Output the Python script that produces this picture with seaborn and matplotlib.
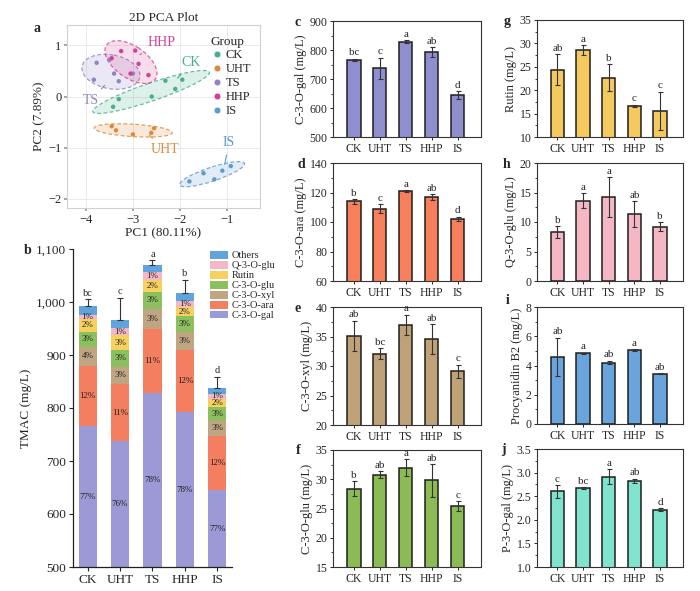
import numpy as np
import pandas as pd
import matplotlib
matplotlib.use("Agg")
import matplotlib.pyplot as plt
import seaborn as sns
from matplotlib.patches import Ellipse, Patch
from matplotlib.lines import Line2D
from matplotlib.ticker import AutoMinorLocator, MultipleLocator, FuncFormatter

sns.set_theme(style="ticks")
plt.rcParams['font.family'] = ['Liberation Serif', 'DejaVu Serif']
plt.rcParams['axes.unicode_minus'] = True

# ---------------- data ----------------
groups = ["CK", "UHT", "TS", "HHP", "IS"]

# PCA scores (PC1, PC2) per group
pca_CK_x = [-3.42, -3.30, -2.31, -1.95, -2.60, -2.10]
pca_CK_y = [-0.20, -0.05, 0.31, 0.33, 0.00, 0.15]
pca_UHT_x = [-3.36, -3.00, -2.61, -2.55, -3.45]
pca_UHT_y = [-0.66, -0.74, -0.71, -0.62, -0.58]
pca_TS_x = [-3.77, -3.83, -3.30, -3.00, -3.50, -3.40]
pca_TS_y = [0.66, 0.33, 0.30, 0.45, 0.72, 0.45]
pca_HHP_x = [-3.25, -2.88, -2.67, -3.45, -3.05, -2.95]
pca_HHP_y = [0.89, 0.64, 0.42, 0.75, 0.45, 0.90]
pca_IS_x = [-1.80, -1.27, -0.92, -1.10, -1.50]
pca_IS_y = [-1.66, -1.62, -1.36, -1.45, -1.50]

# individual compounds (mg/L)
c3gal = [766, 737, 829, 792, 645]
c3gal_err = [4, 36, 4, 17, 13]
c3gal_sig = ["bc", "c", "a", "ab", "d"]

c3ara = [114, 109, 121, 117, 102]
c3ara_err = [1.5, 3.0, 0.6, 2.0, 1.6]
c3ara_sig = ["b", "c", "a", "ab", "d"]

c3xyl = [35.1, 32.1, 37.0, 34.6, 29.1]
c3xyl_err = [2.6, 0.9, 1.7, 2.5, 1.1]
c3xyl_sig = ["ab", "bc", "a", "ab", "c"]

c3glu = [28.4, 30.8, 32.0, 29.8, 25.4]
c3glu_err = [1.3, 0.6, 1.4, 2.8, 0.8]
c3glu_sig = ["b", "ab", "a", "ab", "c"]

rutin = [24.4, 28.6, 22.7, 16.7, 15.6]
rutin_err = [3.3, 1.0, 2.9, 0.2, 4.1]
rutin_sig = ["ab", "a", "b", "c", "c"]

q3glu = [8.3, 13.6, 14.2, 11.3, 9.2]
q3glu_err = [1.0, 1.3, 3.4, 2.2, 0.8]
q3glu_sig = ["b", "a", "a", "ab", "b"]

procb2 = [4.6, 4.85, 4.2, 5.05, 3.45]
procb2_err = [1.3, 0.03, 0.12, 0.05, 0.03]
procb2_sig = ["ab", "a", "ab", "a", "ab"]

p3gal = [2.60, 2.67, 2.91, 2.82, 2.21]
p3gal_err = [0.13, 0.02, 0.16, 0.05, 0.03]
p3gal_sig = ["c", "bc", "a", "ab", "d"]

others = [16, 15, 14, 16, 12]
tmac_err = [13, 42, 9, 24, 21]
tmac_sig = ["bc", "c", "a", "b", "d"]

pct_gal = ["77%", "76%", "78%", "78%", "77%"]
pct_ara = ["12%", "11%", "11%", "12%", "12%"]
pct_xyl = ["4%", "3%", "3%", "3%", "3%"]
pct_glu = ["3%", "3%", "3%", "3%", "3%"]
pct_rutin = ["2%", "3%", "2%", "2%", "2%"]
pct_q = ["1%", "1%", "1%", "1%", "1%"]

# ---------------- figure ----------------
W, H = 700, 591
fig = plt.figure(figsize=(W / 100, H / 100), dpi=100)


def rect(l, t, r, b):
    return [l / W, 1 - b / H, (r - l) / W, (b - t) / H]


# ---------------- panel a: PCA ----------------
grp_colors = {"CK": "#45b08a", "UHT": "#e0883a", "TS": "#8e84c4",
              "HHP": "#d83f93", "IS": "#5a9bd0"}
pca_x = {"CK": pca_CK_x, "UHT": pca_UHT_x, "TS": pca_TS_x, "HHP": pca_HHP_x, "IS": pca_IS_x}
pca_y = {"CK": pca_CK_y, "UHT": pca_UHT_y, "TS": pca_TS_y, "HHP": pca_HHP_y, "IS": pca_IS_y}
rows = []
for g in groups:
    for x, y in zip(pca_x[g], pca_y[g]):
        rows.append({"Group": g, "PC1": x, "PC2": y})
pca_df = pd.DataFrame(rows)

axa = fig.add_axes(rect(67, 25, 260, 208))
axa.set_facecolor("white")
axa.grid(True, color="#e6e6e6", lw=0.6)
axa.set_axisbelow(True)
for g in groups:
    x = np.array(pca_x[g]); y = np.array(pca_y[g])
    cov = np.cov(x, y)
    vals, vecs = np.linalg.eigh(cov)
    order = vals.argsort()[::-1]
    vals = vals[order]; vecs = vecs[:, order]
    ang = np.degrees(np.arctan2(vecs[1, 0], vecs[0, 0]))
    k = 2.0
    ew, eh = 2 * k * np.sqrt(vals[0]), 2 * k * np.sqrt(max(vals[1], 1e-4))
    axa.add_patch(Ellipse((x.mean(), y.mean()), ew, eh, angle=ang, facecolor=grp_colors[g],
                          alpha=0.18, edgecolor="none"))
    axa.add_patch(Ellipse((x.mean(), y.mean()), ew, eh, angle=ang, facecolor="none",
                          edgecolor=grp_colors[g], lw=0.9, ls=(0, (3, 2)), alpha=0.8))
sns.scatterplot(data=pca_df, x="PC1", y="PC2", hue="Group", palette=grp_colors, s=10,
                edgecolor="none", ax=axa, legend=False, zorder=3)
annots = [("HHP", (-2.85, 0.82), (-2.40, 1.05)),
          ("CK", (-2.05, 0.36), (-1.76, 0.67)),
          ("TS", (-3.60, 0.22), (-3.90, -0.08)),
          ("UHT", (-2.65, -0.76), (-2.31, -1.04)),
          ("IS", (-1.05, -1.33), (-0.96, -0.90))]
for lab, xy, xt in annots:
    axa.annotate(lab, xy=xy, xytext=xt, color=grp_colors[lab], fontsize=10, ha="center", va="center",
                 arrowprops=dict(arrowstyle="-", color=grp_colors[lab], lw=0.8, shrinkA=2, shrinkB=0))
axa.set_xlim(-4.4, -0.3)
axa.set_ylim(-2.18, 1.4)
axa.set_xticks([-4, -3, -2, -1])
axa.set_yticks([-2, -1, 0, 1])
axa.tick_params(labelsize=9, length=2, color="#999999", pad=2)
for s in axa.spines.values():
    s.set_color("#d0d0d0"); s.set_linewidth(0.8)
axa.set_xlabel("PC1 (80.11%)", fontsize=9.5, labelpad=1)
axa.set_ylabel("PC2 (7.89%)", fontsize=9.5, labelpad=2)
axa.set_title("2D PCA Plot", fontsize=9.5, pad=3)
handles = [Line2D([], [], marker="o", ls="none", markersize=5, markerfacecolor=grp_colors[g],
                  markeredgecolor="white", markeredgewidth=0.6, label=g) for g in groups]
leg = axa.legend(handles=handles, title="Group", loc="upper left", bbox_to_anchor=(0.70, 0.99),
                 frameon=False, fontsize=9, title_fontsize=9.5, handletextpad=0.2,
                 labelspacing=0.15, borderpad=0.2, handlelength=1.0)
leg._legend_box.align = "left"
fig.text(37 / W, 1 - 28 / H, "a", fontsize=10, fontweight="bold", ha="center", va="center")

# ---------------- panel b: stacked ----------------
stack_names = ["C-3-O-gal", "C-3-O-ara", "C-3-O-xyl", "C-3-O-glu", "Rutin", "Q-3-O-glu", "Others"]
stack_vals = [c3gal, c3ara, c3xyl, c3glu, rutin, q3glu, others]
stack_cols = ["#9b9ad6", "#f47f60", "#bfa582", "#8cbf5e", "#f6d15f", "#f2b8c8", "#5fa4dc"]
stack_pcts = [pct_gal, pct_ara, pct_xyl, pct_glu, pct_rutin, pct_q]
arr = np.array(stack_vals, dtype=float)
cum = np.cumsum(arr, axis=0)
totals = cum[-1]

axb = fig.add_axes(rect(73, 249, 232, 567))
for i in range(len(stack_names) - 1, -1, -1):
    sdf = pd.DataFrame({"group": groups, "value": cum[i]})
    sns.barplot(data=sdf, x="group", y="value", color=stack_cols[i], saturation=1, width=0.56,
                edgecolor="none", errorbar=None, ax=axb)
axb.errorbar(np.arange(5), totals, yerr=[np.zeros(5), tmac_err], fmt="none", ecolor="#333333",
             elinewidth=0.8, capsize=2.5, capthick=0.8)
for j in range(5):
    axb.text(j, totals[j] + tmac_err[j] + 3, tmac_sig[j], ha="center", va="bottom", fontsize=7.5)
    for i in range(6):
        lo = cum[i - 1][j] if i > 0 else 500
        hi = cum[i][j]
        axb.text(j, (lo + hi) / 2, stack_pcts[i][j], ha="center", va="center", fontsize=6.5, color="#222222")
axb.set_ylim(500, 1100)
axb.set_xlim(-0.45, 4.45)
axb.yaxis.set_major_locator(MultipleLocator(100))
axb.yaxis.set_major_formatter(FuncFormatter(lambda v, p: f"{int(v):,}"))
axb.tick_params(labelsize=9.5, length=3, width=0.8, pad=2)
axb.spines["top"].set_visible(False)
axb.spines["right"].set_visible(False)
for s in ["left", "bottom"]:
    axb.spines[s].set_color("#222222"); axb.spines[s].set_linewidth(0.9)
axb.set_xlabel("")
axb.set_ylabel("TMAC (mg/L)", fontsize=9.5, labelpad=3)
lh = [Patch(facecolor=stack_cols[i], edgecolor="none", label=stack_names[i])
      for i in range(len(stack_names) - 1, -1, -1)]
axb.legend(handles=lh, loc="upper left", bbox_to_anchor=(0.83, 1.01), frameon=False, fontsize=7.5,
           handlelength=1.7, handleheight=0.75, labelspacing=0.05, borderpad=0, handletextpad=0.4)
fig.text(28 / W, 1 - 250 / H, "b", fontsize=10, fontweight="bold", ha="center", va="center")


# ---------------- panels c-j ----------------
def bar_panel(r, vals, errs, sig, color, ylabel, ylim, step, letter, lpos):
    ax = fig.add_axes(rect(*r))
    df = pd.DataFrame({"group": groups, "value": vals})
    sns.barplot(data=df, x="group", y="value", color=color, saturation=1, width=0.52,
                edgecolor="#1e1e1e", linewidth=1.1, errorbar=None, ax=ax)
    ax.errorbar(np.arange(5), vals, yerr=errs, fmt="none", ecolor="#333333",
                elinewidth=0.8, capsize=1.8, capthick=0.8)
    span = ylim[1] - ylim[0]
    for j in range(5):
        ax.text(j, vals[j] + errs[j] + span * 0.012, sig[j], ha="center", va="bottom", fontsize=8)
    ax.set_ylim(*ylim)
    ax.set_xlim(-0.8, 4.9)
    ax.yaxis.set_major_locator(MultipleLocator(step))
    ax.yaxis.set_minor_locator(AutoMinorLocator(2))
    ax.tick_params(axis="both", which="major", labelsize=8.5, length=2.5, width=0.7, pad=1.5)
    ax.tick_params(axis="y", which="minor", length=1.5, width=0.6)
    for s in ax.spines.values():
        s.set_color("#333333"); s.set_linewidth(0.8)
    ax.set_xlabel("")
    ax.set_ylabel(ylabel, fontsize=9, labelpad=2)
    fig.text(lpos[0] / W, 1 - lpos[1] / H, letter, fontsize=10, fontweight="bold", ha="center", va="center")
    return ax


bar_panel((333, 21, 481, 137), c3gal, c3gal_err, c3gal_sig, "#8f8fcf", "C-3-O-gal (mg/L)", (500, 900), 100, "c", (298, 22))
bar_panel((333, 163, 481, 281), c3ara, c3ara_err, c3ara_sig, "#f77f5c", "C-3-O-ara (mg/L)", (60, 140), 20, "d", (301, 164))
bar_panel((333, 307, 481, 425), c3xyl, c3xyl_err, c3xyl_sig, "#c0a279", "C-3-O-xyl (mg/L)", (20, 40), 5, "e", (298, 309))
bar_panel((333, 450, 481, 567), c3glu, c3glu_err, c3glu_sig, "#8cbb55", "C-3-O-glu (mg/L)", (15, 35), 5, "f", (298, 451))
bar_panel((537, 20, 683, 137), rutin, rutin_err, rutin_sig, "#f4c95d", "Rutin (mg/L)", (10, 35), 5, "g", (507, 21))
bar_panel((537, 163, 683, 281), q3glu, q3glu_err, q3glu_sig, "#f5b7c4", "Q-3-O-glu (mg/L)", (0, 20), 5, "h", (507, 164))
bar_panel((537, 307, 683, 424), procb2, procb2_err, procb2_sig, "#6aa4dd", "Procyanidin B2 (mg/L)", (0, 8), 2, "i", (508, 300))
bar_panel((537, 449, 683, 567), p3gal, p3gal_err, p3gal_sig, "#80e3cd", "P-3-O-gal (mg/L)", (1.0, 3.5), 0.5, "j", (503, 449))

fig.savefig("out.png", dpi=100, facecolor="white")
